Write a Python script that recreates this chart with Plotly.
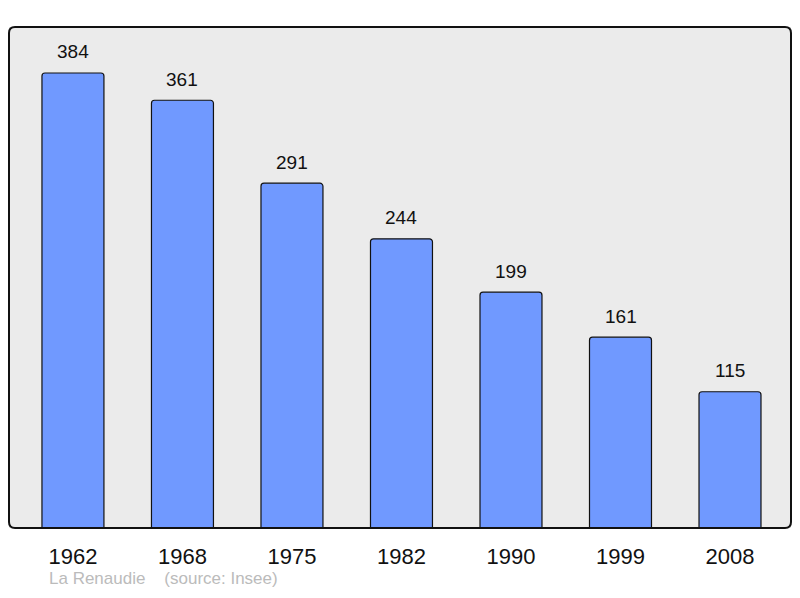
import plotly.graph_objects as go

years = ["1962", "1968", "1975", "1982", "1990", "1999", "2008"]
population = [384, 361, 291, 244, 199, 161, 115]

# page has an 8px default body margin, so the figure is 784x582 placed at (8, 8)
OFF = 8
W, H = 800 - 2 * OFF, 598 - 2 * OFF
L, R, T = 9 - OFF, W + OFF - 791, 27 - OFF
B = H + OFF - 528
pw, ph = W - L - R, H - T - B

FONT = "Liberation Sans, Arial, sans-serif"

fig = go.Figure()
fig.add_trace(go.Bar(
    x=list(range(len(years))), y=population,
    width=0.566,
    marker=dict(color="#7099ff", line=dict(color="#111111", width=1.2), cornerradius=3),
    hoverinfo="skip",
))

for i, v in enumerate(population):
    fig.add_annotation(x=i, y=v, text=str(v), showarrow=False, yshift=21,
                       font=dict(size=19, color="#111111", family=FONT))

fig.add_annotation(xref="paper", yref="paper", x=(47 - 9) / pw, y=(528 - 578) / ph,
                   xanchor="left", yanchor="middle", showarrow=False,
                   text="La Renaudie&nbsp;&nbsp;&nbsp;&nbsp;(source: Insee)",
                   font=dict(size=17, color="#bbbbbb", family=FONT))

# rounded frame
rx, ry = 6 / pw, 6 / ph
path = (f"M {rx},0 L {1-rx},0 Q 1,0 1,{ry} L 1,{1-ry} Q 1,1 {1-rx},1 "
        f"L {rx},1 Q 0,1 0,{1-ry} L 0,{ry} Q 0,0 {rx},0 Z")
fig.add_shape(type="path", xref="paper", yref="paper", path=path,
              line=dict(color="#111111", width=2), layer="above")

fig.update_layout(
    width=W, height=H,
    margin=dict(l=L, r=R, t=T, b=B, pad=0),
    paper_bgcolor="white", plot_bgcolor="#ebebeb",
    showlegend=False,
    font=dict(family=FONT, color="#111111"),
    xaxis=dict(range=[-0.584, 6.557], tickmode="array", tickvals=list(range(len(years))),
               ticktext=years, showgrid=False, zeroline=False, ticks="",
               tickfont=dict(size=22, color="#111111"), ticklabelstandoff=13, fixedrange=True),
    yaxis=dict(range=[0, 422.8], showgrid=False, zeroline=False, showticklabels=False,
               ticks="", fixedrange=True),
)

fig.write_html("out.html")
